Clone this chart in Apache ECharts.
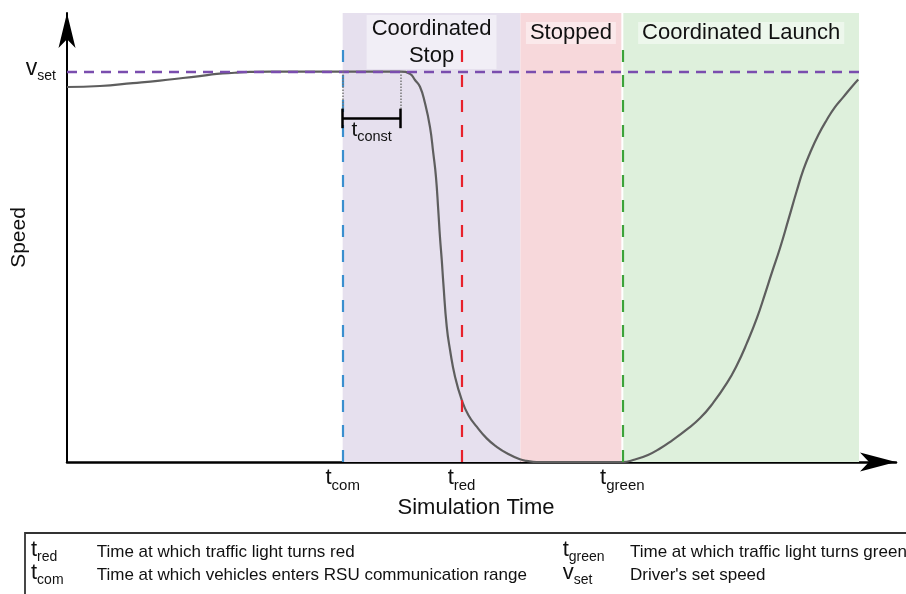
<!DOCTYPE html>
<html>
<head>
<meta charset="utf-8">
<script src="https://cdn.jsdelivr.net/npm/echarts@6/dist/echarts.min.js"></script>
<style>
  html, body { margin: 0; padding: 0; background: #fff; }
  #chart { width: 906px; height: 594px; }
</style>
</head>
<body>
<div id="chart"></div>
<script>
// Speed profile of a vehicle approaching a signalised intersection
const timeValues = [0, 3.3, 6.6, 9.3, 11.6, 13.3, 15.0, 16.8, 18.3, 20.3, 26, 33.4,
  34.34, 34.84, 35.34, 35.84, 36.34, 36.67, 36.94, 37.17, 37.34, 37.52,
  37.68, 38.02, 38.35, 38.85, 39.52, 40.18, 41.02, 42.02, 43.02, 44.18,
  45.35, 46.02, 47, 51, 55.6, 56.87, 58.17, 59.37, 60.57, 62.0, 63.39,
  64.68, 66.08, 67.08, 68.08, 69.08, 69.88, 70.58, 71.39, 72.22, 73.06,
  73.72, 74.39, 75.22, 76.06, 76.89, 77.72, 78.56, 79.22];
const speedValues = [19.21, 19.26, 19.41, 19.54, 19.67, 19.77, 19.88, 19.94, 19.98, 20, 20, 20,
  19.88, 19.57, 19.22, 18.39, 17.17, 15.83, 14.61, 12.91, 11.54, 10.35,
  9.15, 6.93, 5.74, 4.37, 3.18, 2.41, 1.81, 1.21, 0.78, 0.41,
  0.14, 0.06, 0, 0, 0, 0.13, 0.36, 0.69, 1.10, 1.64, 2.25,
  3.02, 4.05, 4.97, 6.10, 7.38, 8.60, 9.71, 10.96, 12.40, 13.88,
  14.96, 15.83, 16.75, 17.52, 18.18, 18.69, 19.21, 19.59];

const setSpeed = 20;              // v_set
const eventTimes = [27.6, 39.5, 55.6];          // t_com, t_red, t_green
const eventSubs = ['com', 'red', 'green'];
const eventColors = ['#3a8fcf', '#e8212b', '#3ca33a'];
const tConstEnd = 33.4;
const phaseNames = ['Coordinated\nStop', 'Stopped', 'Coordinated Launch'];
const phaseStarts = [27.6, 45.4, 55.7];
const phaseEnds = [45.4, 55.5, 79.3];
const phaseColors = ['#e6e0ee', '#f7d8db', '#def0dc'];

const glossarySymbols = [['t', 'red'], ['t', 'green'], ['t', 'com'], ['v', 'set']];
const glossaryTexts = ['Time at which traffic light turns red',
  'Time at which traffic light turns green',
  'Time at which vehicles enters RSU communication range',
  "Driver's set speed"];

const FONT = "'Liberation Sans', Arial, Helvetica, sans-serif";
const INK = '#111';

// rich-text styles for a letter with a lowered subscript
function subRich(mainSize, subSize, drop, extraBottom, colorKey) {
  const q = 0.81 * mainSize + drop - 0.81 * subSize;
  const h = Math.max(mainSize, q + subSize) + (extraBottom || 0);
  const key = colorKey || 'color';
  const m = { fontSize: mainSize, lineHeight: mainSize, padding: [0, 0, h - mainSize, 0], fontFamily: FONT };
  const s = { fontSize: subSize, lineHeight: subSize, padding: [q, 0, h - q - subSize, 0], fontFamily: FONT };
  m[key] = INK; s[key] = INK;
  return { m: m, s: s, h: h };
}

const chart = echarts.init(document.getElementById('chart'));

const xRich = subRich(22, 15, 6);
const yRich = subRich(23, 14, 4, 3);
const cRich = subRich(21, 14.5, 5);

const phaseAreas = phaseNames.map(function (name, i) {
  const multi = name.indexOf('\n') >= 0;
  return [{
    xAxis: phaseStarts[i],
    name: name,
    itemStyle: { color: phaseColors[i] },
    label: {
      show: true,
      position: 'insideTop',
      distance: multi ? 2 : 9,
      color: INK,
      fontFamily: FONT,
      fontSize: 22,
      lineHeight: multi ? 27 : 22,
      padding: multi ? [0, 5] : [0, 4],
      backgroundColor: 'rgba(255,255,255,0.45)'
    }
  }, { xAxis: phaseEnds[i] }];
});

const eventLines = eventTimes.map(function (t, i) {
  return [{ coord: [t, 0], lineStyle: { color: eventColors[i], width: 2.2, type: [12, 13] } },
          { coord: [t, 21.5] }];
});

const bracketY = 17.6, tickHalf = 0.5;
const bracketLines = [
  [{ coord: [eventTimes[0], setSpeed], lineStyle: { color: '#777', width: 1.5, type: 'dotted' } },
   { coord: [eventTimes[0], bracketY + tickHalf] }],
  [{ coord: [tConstEnd, setSpeed], lineStyle: { color: '#777', width: 1.5, type: 'dotted' } },
   { coord: [tConstEnd, bracketY + tickHalf] }],
  [{ coord: [eventTimes[0], bracketY], lineStyle: { color: '#000', width: 2.5, type: 'solid' },
     label: { show: true, position: 'insideMiddleBottom', distance: 3,
              formatter: '{m|t}{s|const}', rich: { m: cRich.m, s: cRich.s } } },
   { coord: [tConstEnd, bracketY] }],
  [{ coord: [eventTimes[0], bracketY - tickHalf], lineStyle: { color: '#000', width: 2.5, type: 'solid' } },
   { coord: [eventTimes[0], bracketY + tickHalf] }],
  [{ coord: [tConstEnd, bracketY - tickHalf], lineStyle: { color: '#000', width: 2.5, type: 'solid' } },
   { coord: [tConstEnd, bracketY + tickHalf] }]
];

const setLine = [[{ coord: [0, setSpeed], lineStyle: { color: '#7a4dae', width: 2.4, type: [10, 7] } },
                  { coord: [phaseEnds[2], setSpeed] }]];

// glossary box under the plot
const glossaryGraphics = [{
  type: 'rect', silent: true,
  shape: { x: 25, y: 533, width: 1000, height: 200 },
  style: { fill: 'none', stroke: '#333', lineWidth: 1.8 }
}];
const gRich = subRich(22, 14, 5, 0, 'fill');
const colSym = [31, 562.7], colText = [96.7, 630], rowBase = [558, 581];
glossarySymbols.forEach(function (sym, i) {
  const col = i % 2, row = Math.floor(i / 2);
  glossaryGraphics.push({
    type: 'text', silent: true,
    style: {
      text: '{m|' + sym[0] + '}{s|' + sym[1] + '}',
      rich: { m: gRich.m, s: gRich.s },
      x: colSym[col], y: rowBase[row] - 0.81 * 22,
      align: 'left', verticalAlign: 'top'
    }
  });
  glossaryGraphics.push({
    type: 'text', silent: true,
    style: {
      text: glossaryTexts[i], x: colText[col], y: rowBase[row] - 0.31 * 17,
      fill: INK, fontSize: 17, fontFamily: FONT, align: 'left', verticalAlign: 'middle'
    }
  });
});

const option = {
  animation: false,
  backgroundColor: '#fff',
  grid: { left: 67, right: 10, top: 13, bottom: 132, outerBoundsMode: 'none' },
  xAxis: {
    type: 'value', min: 0, max: 83,
    splitLine: { show: false },
    axisTick: { show: false },
    axisLine: {
      show: true, onZero: false,
      lineStyle: { color: '#000', width: 2.5 },
      symbol: ['none', 'arrow'], symbolSize: [14.25, 36], symbolOffset: [0, 0]
    },
    axisLabel: {
      show: true,
      customValues: eventTimes,
      margin: 7,
      formatter: function (v) {
        const i = eventTimes.indexOf(v);
        return '{m|t}{s|' + eventSubs[i] + '}';
      },
      rich: { m: xRich.m, s: xRich.s }
    },
    name: 'Simulation Time', nameLocation: 'middle', nameGap: 35, nameMoveOverlap: false,
    nameTextStyle: { fontSize: 22, color: INK, fontFamily: FONT, padding: [0, 11, 0, 0] }
  },
  yAxis: {
    type: 'value', min: 0, max: 23,
    splitLine: { show: false },
    axisTick: { show: false },
    axisLine: {
      show: true,
      lineStyle: { color: '#000', width: 2 },
      symbol: ['none', 'arrow'], symbolSize: [12.75, 35], symbolOffset: [0, 0]
    },
    axisLabel: {
      show: true,
      customValues: [setSpeed],
      margin: 11,
      formatter: function () { return '{m|v}{s|set}'; },
      rich: { m: yRich.m, s: yRich.s }
    },
    name: 'Speed', nameLocation: 'middle', nameGap: 37, nameMoveOverlap: false,
    nameTextStyle: { fontSize: 21, color: INK, fontFamily: FONT }
  },
  series: [{
    type: 'line',
    name: 'Speed',
    data: timeValues.map(function (t, i) { return [t, speedValues[i]]; }),
    showSymbol: false,
    smooth: 0.5,
    lineStyle: { color: '#5e5e5e', width: 2.2 },
    silent: true,
    markArea: { silent: true, data: phaseAreas },
    markLine: {
      silent: true,
      symbol: ['none', 'none'],
      label: { show: false },
      data: setLine.concat(eventLines, bracketLines)
    }
  }],
  graphic: { elements: glossaryGraphics }
};

chart.setOption(option);
</script>
</body>
</html>
